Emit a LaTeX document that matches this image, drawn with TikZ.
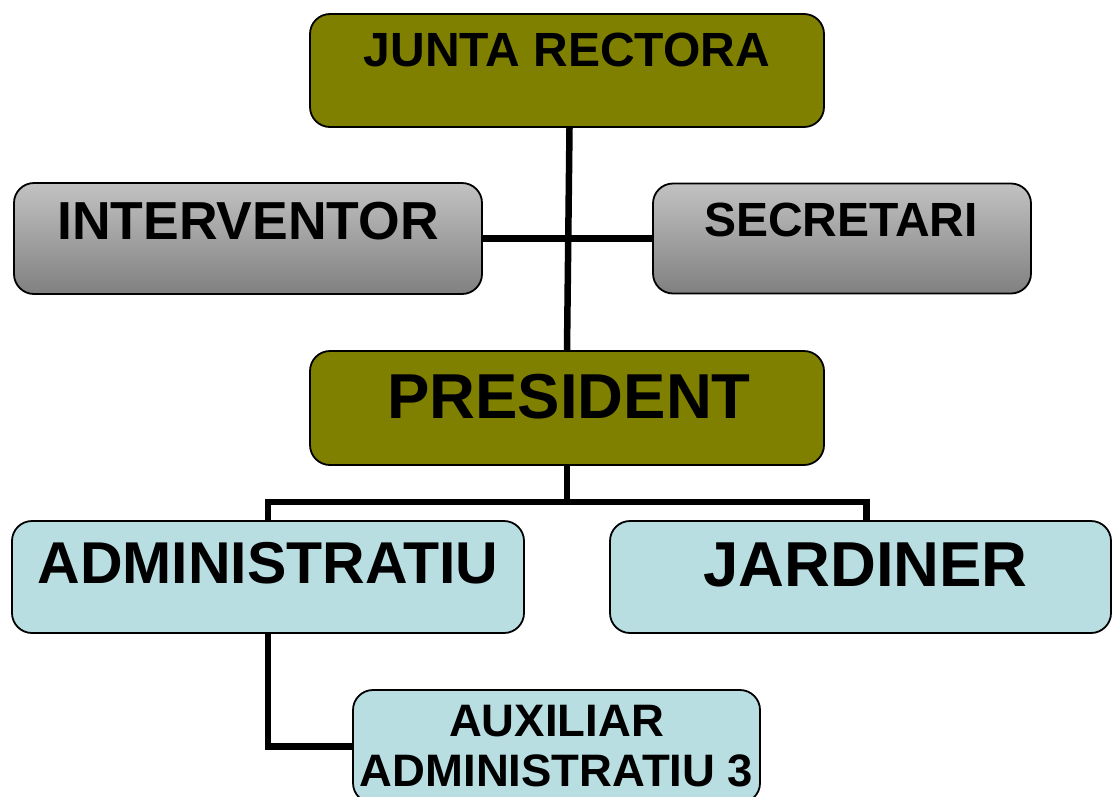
\documentclass[tikz,border=0pt]{standalone}
\usepackage{fontspec}
\setmainfont{Liberation Sans}
\definecolor{olivebox}{RGB}{128,128,0}
\definecolor{bluebox}{RGB}{184,222,226}
\definecolor{greytop}{RGB}{194,194,194}
\definecolor{greybot}{RGB}{128,128,128}
\tikzset{
  box/.style={draw=black, line width=1.8pt, rounded corners=20pt, inner sep=0pt},
  olivestyle/.style={box, fill=olivebox},
  greystyle/.style={box, top color=greytop, bottom color=greybot},
  bluestyle/.style={box, fill=bluebox},
  lab/.style={inner sep=0pt, font=\bfseries\fontsize{#1}{#1}\selectfont},
  conn/.style={line width=6.5pt, draw=black}
}
\begin{document}
\begin{tikzpicture}[x=1pt, y=-1pt]
\useasboundingbox (0,0) rectangle (1113,796);
\clip (0,0) rectangle (1113,796);
\fill[white] (0,0) rectangle (1113,796);
\coordinate (bus) at (567,502);
% boxes
\node[olivestyle, minimum width=514pt, minimum height=113pt,
  label={[lab=48, yshift=20.5pt]center:JUNTA RECTORA}] (junta) at (567,70.5) {};
\node[greystyle, minimum width=468pt, minimum height=111pt,
  label={[lab=53.5, yshift=17pt]center:INTERVENTOR}] (interv) at (248,238.5) {};
\node[greystyle, minimum width=378pt, minimum height=110pt,
  label={[lab=48, yshift=19pt, xshift=-1pt]center:SECRETARI}] (secr) at (842,238.5) {};
\node[olivestyle, minimum width=514pt, minimum height=114pt,
  label={[lab=63.5, yshift=11pt, xshift=2pt]center:PRESIDENT}] (pres) at (567,408) {};
\node[bluestyle, minimum width=512pt, minimum height=112pt,
  label={[lab=59, yshift=14pt]center:ADMINISTRATIU}] (admin) at (268,577) {};
\node[bluestyle, minimum width=501pt, minimum height=112pt,
  label={[lab=63.5, yshift=12pt, xshift=5pt]center:JARDINER}] (jard) at (860.5,577) {};
\node[bluestyle, minimum width=407pt, minimum height=113pt,
  label={[lab=45, align=center, font=\bfseries\fontsize{45.5}{50}\selectfont]center:AUXILIAR\\ADMINISTRATIU 3}] (aux) at (556.5,746.5) {};
% connectors
\draw[conn] ([xshift=2.5pt]junta.south) -- (pres.north);
\draw[conn] (interv.east) -- (secr.west);
\draw[conn] (pres.south) -- (bus);
\draw[conn] (admin.north) |- (bus) -| ([xshift=6pt]jard.north);
\draw[conn] (admin.south) |- (aux.west);
\end{tikzpicture}
\end{document}
